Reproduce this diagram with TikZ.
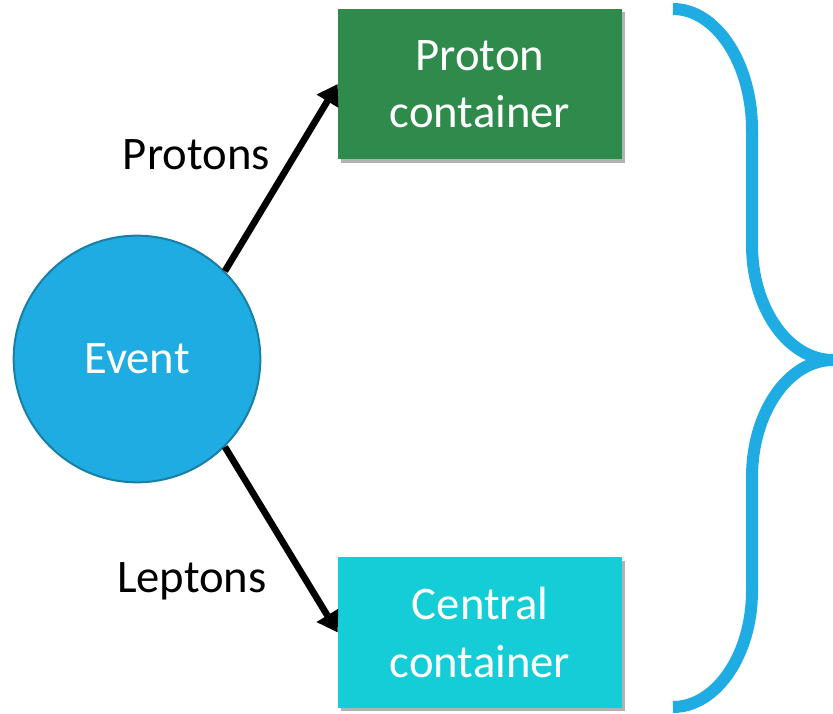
\documentclass[tikz,border=0pt]{standalone}
\usepackage{fontspec}
\setmainfont{Carlito}
\usetikzlibrary{arrows.meta,shadows,positioning}
\definecolor{evfill}{HTML}{1EACE2}
\definecolor{evborder}{HTML}{1A7FA5}
\definecolor{pgreen}{HTML}{2F8B4C}
\definecolor{ccyan}{HTML}{14CDD7}
\definecolor{bracecol}{HTML}{1EACE2}
\tikzset{
  big/.style={font=\fontsize{35}{43}\selectfont},
  evnode/.style={circle, fill=evfill, draw=evborder, line width=1.5pt, minimum size=185pt, inner sep=0pt, text=white, big},
  boxnode/.style={rectangle, minimum width=213pt, minimum height=113pt, inner sep=0pt, text=white, align=center, big,
    drop shadow={opacity=0.3, shadow xshift=2.5pt, shadow yshift=-2.5pt, fill=black}},
  lbl/.style={text=black, big, anchor=base east, inner sep=0pt},
  conn/.style={line width=5pt, -{Triangle[length=15pt, width=18pt]}},
  bracestyle/.style={draw=bracecol, line width=9pt}
}
\begin{document}
\begin{tikzpicture}[x=0.75pt, y=-0.75pt]
\useasboundingbox (0,0) rectangle (833,714);
\node[evnode] (ev) at (137,359) {Event};
\node[boxnode, fill=pgreen] (pc) at (480,84) {Proton\\container};
\node[boxnode, fill=ccyan] (cc) at (480,632.5) {Central\\container};
\draw[conn] (ev.45) -- (pc.west);
\draw[conn] (ev.-45) -- (cc.west);
\node[lbl] (lp) at (270,169) {Protons};
\node[lbl] (ll) at (267,592) {Leptons};
\draw[bracestyle] (673,9) .. controls (716,9) and (752,63) .. (752,130)
  -- (752,245) .. controls (752,308) and (788,360) .. (833,360)
  .. controls (788,360) and (752,413) .. (752,477)
  -- (752,591) .. controls (752,655) and (716,707) .. (673,707);
\end{tikzpicture}
\end{document}
